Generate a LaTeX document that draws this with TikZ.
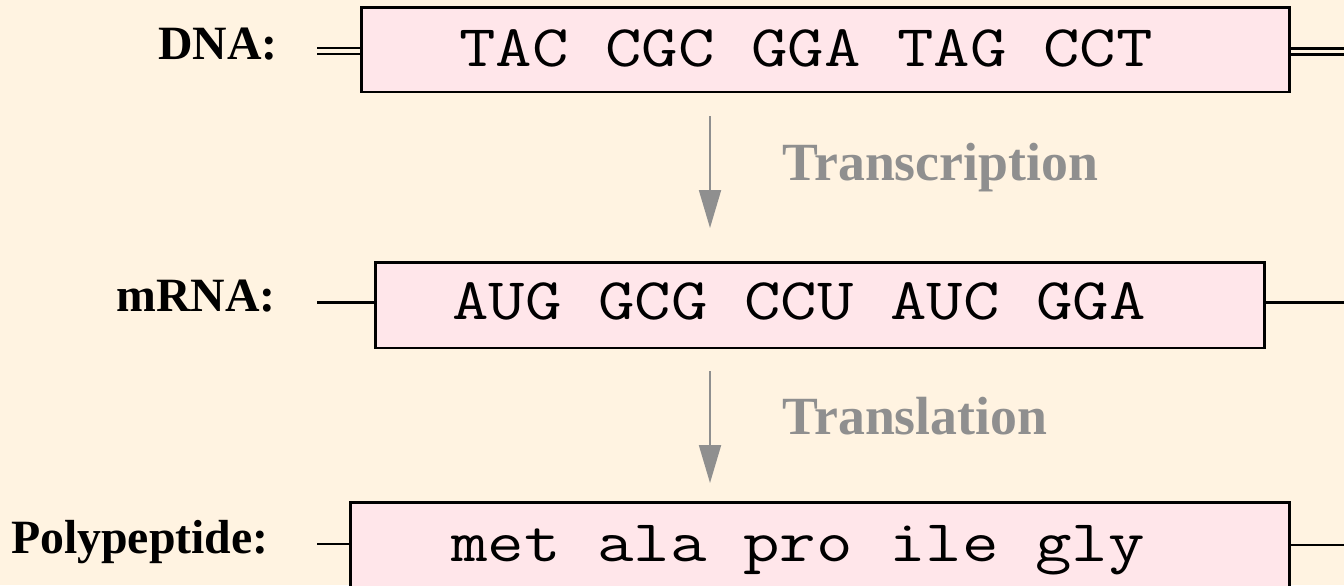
\documentclass[tikz,border=0pt]{standalone}
\usepackage{fontspec}
\setmainfont{Liberation Serif}
\newfontfamily\seqfont[FakeStretch=1.2]{Latin Modern Mono}
\usetikzlibrary{arrows.meta}
\definecolor{paper}{RGB}{255,243,225}
\definecolor{boxpink}{RGB}{255,230,234}
\definecolor{stepgray}{RGB}{143,143,143}
\tikzset{
	seqbox/.style={draw=black, line width=1.7pt, fill=boxpink, inner sep=0pt},
	seqtext/.style={anchor=base west, inner sep=0pt, font=\seqfont\fontsize{33.6}{36}\selectfont},
	seqlabel/.style={anchor=base east, inner sep=0pt, font=\fontsize{27.2}{30}\selectfont\bfseries},
	steplabel/.style={anchor=base west, inner sep=0pt, text=stepgray, font=\fontsize{30.6}{33}\selectfont\bfseries},
	steparrow/.style={draw=stepgray, line width=1.15pt, -{Triangle[length=21.6pt,width=12.5pt]}},
	strand/.style={line width=1.15pt},
	duplex/.style={line width=1.4pt, double=paper, double distance=1.9pt}
}

\begin{document}
\begin{tikzpicture}[x=0.02cm, y=-0.02cm]
			%%%%% START %%%%%
			
			\fill[paper] (0,0) rectangle (1344,585);
			\useasboundingbox (0,0) rectangle (1344,585);
			\clip (0,0) rectangle (1344,585);
			
			% DNA
			\node[seqbox, minimum width=18.56cm, minimum height=1.7cm] (dnabox) at (825.5,49.5) {};
			\node[seqtext] (dnaseq) at (459,66) {TAC CGC GGA TAG CCT};
			\node[seqlabel] (dnalabel) at (278,59) {DNA:};
			\coordinate (dnaleft) at (317,51);
			\coordinate (dnaright) at (1344,51.5);
			\draw[duplex] (dnaleft) -- (dnaleft -| dnabox.west);
			\draw[duplex] (dnaright -| dnabox.east) -- (dnaright);
			
			% transcription step
			\coordinate (tcstart) at (710,116);
			\coordinate (tcend) at (710,228);
			\draw[steparrow] (tcstart) -- (tcend);
			\node[steplabel] (tclabel) at (782,180) {Transcription};
			
			% mRNA
			\node[seqbox, minimum width=17.8cm, minimum height=1.72cm] (rnabox) at (820,305) {};
			\node[seqtext] (rnaseq) at (452,319) {AUG GCG CCU AUC GGA};
			\node[seqlabel] (rnalabel) at (276,311) {mRNA:};
			\coordinate (rnaleft) at (317,302.5);
			\coordinate (rnaright) at (1344,302.5);
			\draw[strand] (rnaleft) -- (rnaleft -| rnabox.west);
			\draw[strand] (rnaright -| rnabox.east) -- (rnaright);
			
			% translation step
			\coordinate (tlstart) at (710,371);
			\coordinate (tlend) at (710,483);
			\draw[steparrow] (tlstart) -- (tlend);
			\node[steplabel] (tllabel) at (782,434) {Translation};
			
			% polypeptide
			\node[seqbox, minimum width=18.77cm, minimum height=1.72cm] (pepbox) at (820,545) {};
			\node[seqtext] (pepseq) at (451,561) {met ala pro ile gly};
			\node[seqlabel] (peplabel) at (269,553) {Polypeptide:};
			\coordinate (pepleft) at (317,544);
			\coordinate (pepright) at (1344,544.5);
			\draw[strand] (pepleft) -- (pepleft -| pepbox.west);
			\draw[strand] (pepright -| pepbox.east) -- (pepright);
			
			%%%%% END %%%%%
\end{tikzpicture}
\end{document}
